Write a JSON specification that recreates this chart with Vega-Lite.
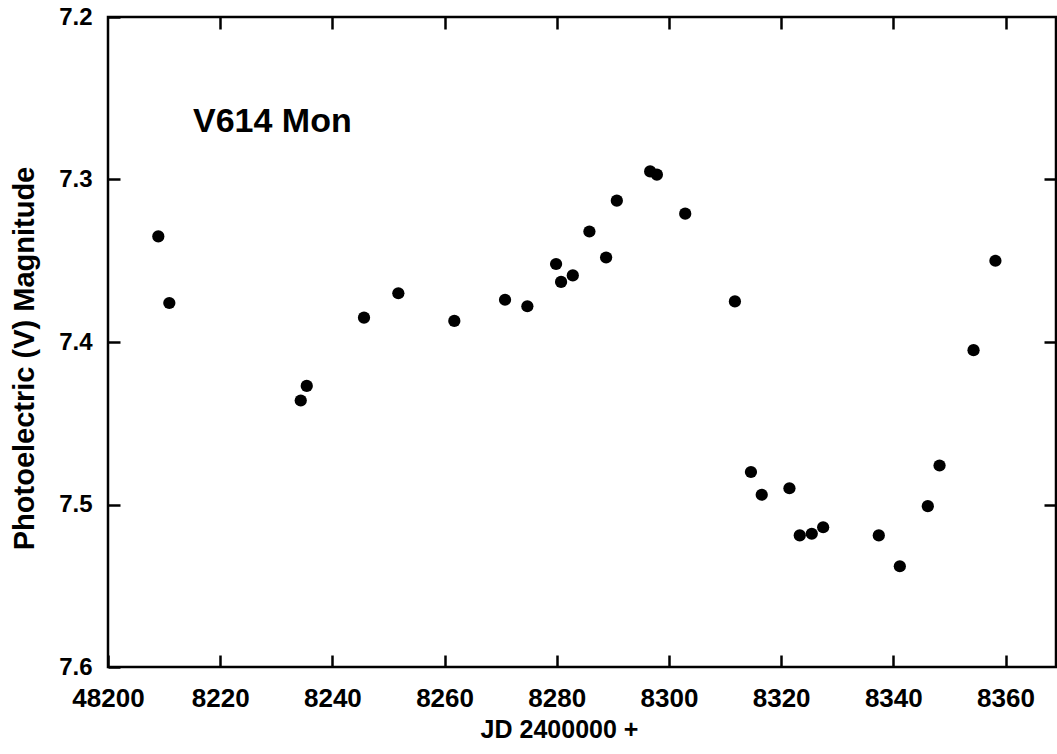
{
  "$schema": "https://vega.github.io/schema/vega-lite/v6.json",
  "autosize": "none",
  "width": 948,
  "height": 650,
  "padding": {"left": 108, "top": 17, "right": 1, "bottom": 87},
  "background": "white",
  "config": {
    "view": {"stroke": "black", "strokeWidth": 2.5},
    "font": "Liberation Sans",
    "axis": {"grid": false, "domain": false, "tickColor": "black", "tickWidth": 2.5, "labelColor": "black", "titleColor": "black", "labelFont": "Liberation Sans", "titleFont": "Liberation Sans", "labelFontWeight": "bold", "titleFontWeight": "bold"}
  },
  "datasets": {
    "obs": [
      {"jd": 48208.97, "mag": 7.335},
      {"jd": 48210.93, "mag": 7.376},
      {"jd": 48234.36, "mag": 7.436},
      {"jd": 48235.43, "mag": 7.427},
      {"jd": 48245.64, "mag": 7.385},
      {"jd": 48251.76, "mag": 7.370},
      {"jd": 48261.74, "mag": 7.387},
      {"jd": 48270.78, "mag": 7.374},
      {"jd": 48274.76, "mag": 7.378},
      {"jd": 48279.88, "mag": 7.352},
      {"jd": 48280.77, "mag": 7.363},
      {"jd": 48282.86, "mag": 7.359},
      {"jd": 48285.82, "mag": 7.332},
      {"jd": 48288.80, "mag": 7.348},
      {"jd": 48290.71, "mag": 7.313},
      {"jd": 48296.65, "mag": 7.295},
      {"jd": 48297.85, "mag": 7.297},
      {"jd": 48302.90, "mag": 7.321},
      {"jd": 48311.76, "mag": 7.375},
      {"jd": 48314.62, "mag": 7.480},
      {"jd": 48316.54, "mag": 7.494},
      {"jd": 48321.48, "mag": 7.490},
      {"jd": 48323.32, "mag": 7.519},
      {"jd": 48325.46, "mag": 7.518},
      {"jd": 48327.49, "mag": 7.514},
      {"jd": 48337.41, "mag": 7.519},
      {"jd": 48341.16, "mag": 7.538},
      {"jd": 48346.15, "mag": 7.501},
      {"jd": 48348.24, "mag": 7.476},
      {"jd": 48354.30, "mag": 7.405},
      {"jd": 48358.20, "mag": 7.350}
    ],
    "label": [
      {"jd": 48215.15, "mag": 7.271, "text": "V614 Mon"}
    ]
  },
  "resolve": {"axis": {"x": "independent", "y": "independent"}},
  "layer": [
    {
      "data": {"name": "obs"},
      "mark": {"type": "circle", "size": 150, "color": "black", "opacity": 1},
      "encoding": {
        "x": {
          "field": "jd", "type": "quantitative",
          "scale": {"domain": [48200, 48369], "nice": false, "zero": false},
          "axis": {
            "orient": "bottom",
            "offset": -12,
            "values": [48200, 48220, 48240, 48260, 48280, 48300, 48320, 48340, 48360],
            "format": "d",
            "labelExpr": "datum.value == 48200 ? datum.label : slice(datum.label, 1)",
            "tickSize": 12,
            "labelPadding": 18,
            "labelFontSize": 26,
            "labelFlush": false,
            "labelOverlap": false,
            "title": "JD 2400000 +",
            "titleFontSize": 25,
            "titleX": 451,
            "titleY": 82,
            "titleBaseline": "alphabetic",
            "titleAnchor": "middle",
            "titleAlign": "center"
          }
        },
        "y": {
          "field": "mag", "type": "quantitative",
          "scale": {"domain": [7.2, 7.6], "reverse": true, "nice": false, "zero": false},
          "axis": {
            "orient": "left",
            "offset": -12,
            "values": [7.2, 7.3, 7.4, 7.5, 7.6],
            "format": ".1f",
            "tickSize": 12,
            "labelPadding": 16,
            "labelFontSize": 24,
            "labelFlush": false,
            "labelOverlap": false,
            "title": "Photoelectric (V) Magnitude",
            "titleFontSize": 29,
            "titleAngle": -90,
            "titleX": -87,
            "titleY": 341,
            "titleBaseline": "alphabetic",
            "titleAlign": "center"
          }
        }
      }
    },
    {
      "data": {"name": "label"},
      "mark": {"type": "text", "align": "left", "baseline": "alphabetic", "fontSize": 34, "fontWeight": "bold", "font": "Liberation Sans", "color": "black"},
      "encoding": {
        "x": {
          "field": "jd", "type": "quantitative",
          "axis": {"orient": "top", "offset": -12, "values": [48220, 48240, 48260, 48280, 48300, 48320, 48340, 48360], "labels": false, "tickSize": 12, "title": null}
        },
        "y": {
          "field": "mag", "type": "quantitative",
          "axis": {"orient": "right", "offset": -12, "values": [7.3, 7.4, 7.5], "labels": false, "tickSize": 12, "title": null}
        },
        "text": {"field": "text"}
      }
    }
  ]
}
